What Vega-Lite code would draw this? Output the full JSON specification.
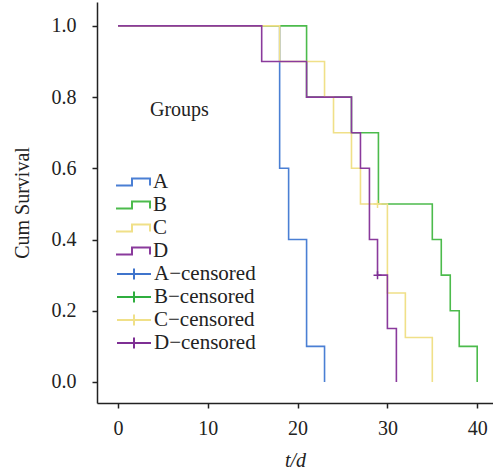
{
  "$schema": "https://vega.github.io/schema/vega-lite/v6.json",
  "width": 396,
  "height": 401,
  "autosize": {"type": "none"},
  "padding": {"left": 97, "top": 2, "right": 0, "bottom": 69},
  "background": "white",
  "config": {
    "view": {"stroke": null},
    "font": "Liberation Serif",
    "axis": {
      "grid": false,
      "domainColor": "#222",
      "domainWidth": 1.5,
      "tickColor": "#222",
      "tickWidth": 1.5,
      "tickSize": 5,
      "labelFont": "Liberation Serif",
      "labelFontSize": 20,
      "labelColor": "#222",
      "titleFont": "Liberation Serif",
      "titleFontSize": 20,
      "titleFontWeight": "normal",
      "titleColor": "#222"
    },
    "legend": {
      "labelFont": "Liberation Serif",
      "labelFontSize": 21,
      "labelColor": "#222",
      "titleFont": "Liberation Serif",
      "titleFontSize": 20,
      "titleFontWeight": "normal",
      "titleColor": "#222"
    }
  },
  "datasets": {
    "curves": [
      {"group": "A", "t": 0, "s": 1},
      {"group": "A", "t": 18, "s": 0.6},
      {"group": "A", "t": 19, "s": 0.4},
      {"group": "A", "t": 21, "s": 0.1},
      {"group": "A", "t": 23, "s": 0},
      {"group": "B", "t": 0, "s": 1},
      {"group": "B", "t": 21, "s": 0.8},
      {"group": "B", "t": 26, "s": 0.7},
      {"group": "B", "t": 29, "s": 0.5},
      {"group": "B", "t": 35, "s": 0.4},
      {"group": "B", "t": 36, "s": 0.3},
      {"group": "B", "t": 37, "s": 0.2},
      {"group": "B", "t": 38, "s": 0.1},
      {"group": "B", "t": 40, "s": 0},
      {"group": "C", "t": 0, "s": 1},
      {"group": "C", "t": 18, "s": 0.9},
      {"group": "C", "t": 23, "s": 0.8},
      {"group": "C", "t": 24, "s": 0.7},
      {"group": "C", "t": 26, "s": 0.6},
      {"group": "C", "t": 27, "s": 0.5},
      {"group": "C", "t": 30, "s": 0.25},
      {"group": "C", "t": 32, "s": 0.125},
      {"group": "C", "t": 35, "s": 0},
      {"group": "D", "t": 0, "s": 1},
      {"group": "D", "t": 16, "s": 0.9},
      {"group": "D", "t": 21, "s": 0.8},
      {"group": "D", "t": 26, "s": 0.7},
      {"group": "D", "t": 27, "s": 0.6},
      {"group": "D", "t": 28, "s": 0.4},
      {"group": "D", "t": 28.9, "s": 0.3},
      {"group": "D", "t": 30, "s": 0.15},
      {"group": "D", "t": 31, "s": 0}
    ],
    "censored": [
      {"cg": "C-censored", "t": 28.9, "s": 0.5},
      {"cg": "D-censored", "t": 28.9, "s": 0.3}
    ]
  },
  "layer": [
    {
      "data": {"name": "curves"},
      "mark": {"type": "line", "interpolate": "step-after", "strokeWidth": 1.6},
      "encoding": {
        "x": {
          "field": "t", "type": "quantitative",
          "scale": {"domain": [-2.34, 41.76], "nice": false, "zero": false},
          "axis": {"values": [0, 10, 20, 30, 40], "title": "t/d", "titleFontStyle": "italic", "labelPadding": 10, "titlePadding": 12}
        },
        "y": {
          "field": "s", "type": "quantitative",
          "scale": {"domain": [-0.059, 1.067], "nice": false, "zero": false},
          "axis": {"values": [0, 0.2, 0.4, 0.6, 0.8, 1.0], "format": ".1f", "title": "Cum Survival", "labelPadding": 16, "titlePadding": 19}
        },
        "stroke": {
          "field": "group", "type": "nominal",
          "scale": {"domain": ["A", "B", "C", "D"], "range": ["#4a7fd4", "#4cbb4c", "#f0e088", "#8a3a9c"]},
          "legend": {
            "title": "\u200b\u00a0\u00a0\u00a0\u00a0\u00a0\u00a0\u00a0Groups",
            "orient": "none",
            "legendX": 18,
            "legendY": 98,
            "titlePadding": 51,
            "symbolType": "M-1,0.35 H0.6 V-0.35 H2.4 V0.35",
            "symbolSize": 400,
            "symbolStrokeWidth": 2,
            "symbolFillColor": "transparent",
            "labelOffset": 16,
            "rowPadding": 2
          }
        }
      }
    },
    {
      "data": {"name": "censored"},
      "mark": {"type": "point", "shape": "M-1,0 H1 M0,-1 V1", "filled": false, "size": 64, "strokeWidth": 1.5, "opacity": 1},
      "encoding": {
        "x": {"field": "t", "type": "quantitative"},
        "y": {"field": "s", "type": "quantitative"},
        "color": {
          "field": "cg", "type": "nominal",
          "scale": {"domain": ["A-censored", "B-censored", "C-censored", "D-censored"], "range": ["#3f74cc", "#2fae3f", "#f0e088", "#7e2f94"]},
          "legend": {
            "title": null,
            "orient": "none",
            "legendX": 19,
            "legendY": 261,
            "symbolType": "M-1,0 H2.4 M0.7,-0.55 V0.55",
            "symbolSize": 400,
            "symbolStrokeWidth": 2,
            "symbolFillColor": "transparent",
            "labelOffset": 16,
            "rowPadding": 2,
            "labelExpr": "replace(datum.label, '-', '\u2212')"
          }
        }
      }
    }
  ]
}
